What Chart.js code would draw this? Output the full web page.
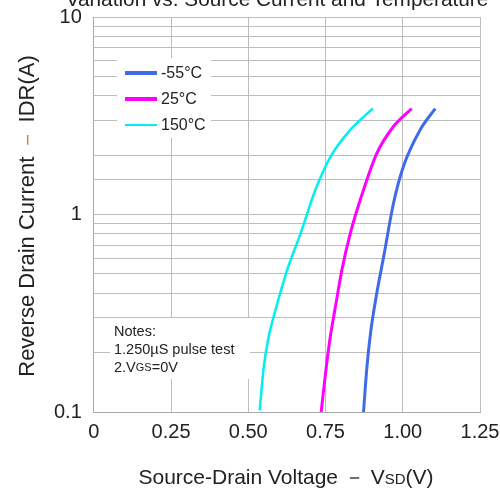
<!DOCTYPE html>
<html>
<head>
<meta charset="utf-8">
<script src="https://cdn.jsdelivr.net/npm/chart.js@4.4.0/dist/chart.umd.min.js"></script>
<style>
  html, body { margin: 0; padding: 0; background: #fff; }
  #wrap { width: 500px; height: 491px; position: relative; }
</style>
</head>
<body>
<div id="wrap"><canvas id="chart" width="500" height="491"></canvas></div>
<script>
// Diode forward curves: source-drain voltage (V) vs reverse drain current (A)
const seriesLabels = ["-55°C", "25°C", "150°C"];
const seriesColors = ["#3f6be8", "#ff00ff", "#00f0f0"];

const vsdMinus55 = [0.873, 0.884, 0.897, 0.916, 0.938, 0.970, 1.002, 1.056, 1.105];
const idrMinus55 = [0.1, 0.169, 0.26, 0.40, 0.61, 1.14, 1.75, 2.68, 3.44];

const vsd25 = [0.736, 0.750, 0.764, 0.782, 0.803, 0.830, 0.862, 0.916, 0.970, 1.029];
const idr25 = [0.1, 0.157, 0.232, 0.341, 0.524, 0.80, 1.18, 2.04, 2.79, 3.44];

const vsd150 = [0.537, 0.550, 0.566, 0.588, 0.626, 0.669, 0.717, 0.766, 0.830, 0.903];
const idr150 = [0.102, 0.169, 0.240, 0.328, 0.524, 0.80, 1.33, 1.96, 2.68, 3.44];

const xTicks = [0, 0.25, 0.5, 0.75, 1.0, 1.25];
const yTickLabels = [0.1, 1, 10];

const noteLines = ["Notes:", "1.250µS pulse test", "2.VGS=0V"];
const titleText = "Variation vs. Source Current and Temperature";

const FONT = "'Liberation Sans', Arial, sans-serif";
const INK = "#222";

function toPoints(xs, ys) {
  return xs.map((x, i) => ({ x: x, y: ys[i] }));
}

const curves = [
  toPoints(vsdMinus55, idrMinus55),
  toPoints(vsd25, idr25),
  toPoints(vsd150, idr150),
];

// Title, axis titles, legend box and notes box
const annotations = {
  id: "annotations",
  afterDraw(chart) {
    const c = chart.ctx;
    c.save();
    c.fillStyle = INK;
    c.textBaseline = "alphabetic";

    // title (top line clipped by the canvas edge)
    c.font = "20.8px " + FONT;
    c.textAlign = "center";
    c.fillText(titleText, 277, 6);

    // x axis title with subscript-style "SD"
    const xParts = [
      { t: "Source-Drain Voltage \uFF0D ", f: "21px " + FONT },
      { t: "V", f: "21px " + FONT },
      { t: "SD", f: "15px " + FONT },
      { t: "(V)", f: "21px " + FONT },
    ];
    drawParts(c, xParts, 286, 484, 0);

    // y axis title, rotated
    c.save();
    c.translate(34, 216);
    c.rotate(-Math.PI / 2);
    const yParts = [
      { t: "Reverse Drain Current ", f: "22px " + FONT },
      { t: "\uFF0D ", f: "22px " + FONT, color: "#e07040" },
      { t: "IDR(A)", f: "22px " + FONT },
    ];
    drawParts(c, yParts, 0, 0, 0);
    c.restore();

    // legend
    c.fillStyle = "#fff";
    c.fillRect(117, 58, 94, 80);
    const rows = [73, 99, 125];
    chart.data.datasets.forEach((ds, i) => {
      c.strokeStyle = ds.borderColor;
      c.lineWidth = i === 2 ? 2 : 4;
      c.beginPath();
      c.moveTo(125, rows[i]);
      c.lineTo(157, rows[i]);
      c.stroke();
      c.fillStyle = INK;
      c.font = "16px " + FONT;
      c.textAlign = "left";
      c.textBaseline = "middle";
      c.fillText(ds.label, 161, rows[i] + 1);
    });

    // notes
    c.fillStyle = "#fff";
    c.fillRect(110, 318, 140, 61);
    c.fillStyle = INK;
    c.textBaseline = "middle";
    c.textAlign = "left";
    c.font = "14.5px " + FONT;
    c.fillText(noteLines[0], 114, 332);
    c.fillText(noteLines[1], 114, 350);
    drawParts(c, [
      { t: "2.V", f: "14.5px " + FONT },
      { t: "GS", f: "11px " + FONT },
      { t: "=0V", f: "14.5px " + FONT },
    ], 114, 368, -1);
    c.restore();
  },
};

// draws text runs in a row; align -1 = left, 0 = centre
function drawParts(c, parts, x, y, align) {
  let total = 0;
  parts.forEach((p) => {
    c.font = p.f;
    p.w = c.measureText(p.t).width;
    total += p.w;
  });
  let cx = align === 0 ? x - total / 2 : x;
  c.textAlign = "left";
  parts.forEach((p) => {
    c.font = p.f;
    c.fillStyle = p.color || INK;
    c.fillText(p.t, cx, y);
    cx += p.w;
  });
}

// let the layout padding alone decide where the plot sits
function noEdgePadding(axis) {
  axis.paddingLeft = 0;
  axis.paddingRight = 0;
  axis.paddingTop = 0;
  axis.paddingBottom = 0;
}

const ctx = document.getElementById("chart").getContext("2d");
const chart = new Chart(ctx, {
  type: "line",
  data: {
    datasets: curves.map((pts, i) => ({
      label: seriesLabels[i],
      data: pts,
      borderColor: seriesColors[i],
      borderWidth: i === 2 ? 2.5 : 3,
      pointRadius: 0,
      fill: false,
      cubicInterpolationMode: "monotone",
    })),
  },
  options: {
    responsive: false,
    animation: false,
    layout: { padding: { left: 42, right: 20, top: 17, bottom: 39 } },
    plugins: {
      legend: { display: false },
      tooltip: { enabled: false },
    },
    scales: {
      x: {
        type: "linear",
        min: 0,
        max: 1.25,
        afterBuildTicks: (axis) => {
          axis.ticks = xTicks.map((v) => ({ value: v }));
        },
        afterFit: noEdgePadding,
        ticks: {
          font: { family: FONT, size: 20 },
          color: INK,
          padding: 8,
          maxRotation: 0,
          callback: (v) => (v === 0 ? "0" : v.toFixed(2)),
        },
        grid: { color: "#bdbdbd", lineWidth: 1, drawTicks: false },
        border: { color: "#a8a8a8" },
      },
      y: {
        type: "logarithmic",
        min: 0.1,
        max: 10,
        afterFit: noEdgePadding,
        ticks: {
          font: { family: FONT, size: 20 },
          color: INK,
          padding: 12,
          autoSkip: false,
          callback: (v) => (yTickLabels.includes(Number(v.toPrecision(3))) ? String(v) : ""),
        },
        grid: { color: "#bdbdbd", lineWidth: 1, drawTicks: false },
        border: { color: "#a8a8a8" },
      },
    },
  },
  plugins: [annotations],
});
</script>
</body>
</html>
